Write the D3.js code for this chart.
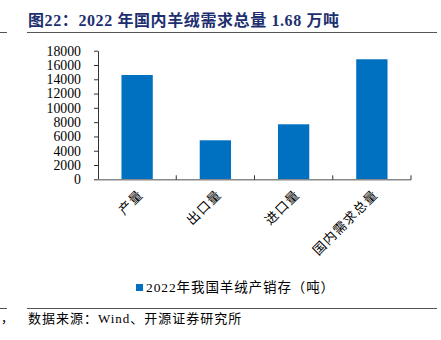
<!DOCTYPE html>
<html>
<head>
<meta charset="utf-8">
<script src="https://cdn.jsdelivr.net/npm/d3@7"></script>
<style>
  html, body { margin: 0; padding: 0; background: #fff; }
  svg { display: block; }
</style>
</head>
<body>
<svg id="chart" width="441" height="340"></svg>
<script>
// Wool (cashmere) production, export, import and domestic demand, 2022 (tonnes)
const categories = ["产量", "出口量", "进口量", "国内需求总量"];
const values = [14600, 5460, 7700, 16800];
const yTicks = [0, 2000, 4000, 6000, 8000, 10000, 12000, 14000, 16000, 18000];
const titleText = "图22：2022 年国内羊绒需求总量 1.68 万吨";
const legendText = "2022年我国羊绒产销存（吨）";
const sourceText = "数据来源：Wind、开源证券研究所";

const serif = "'Liberation Serif', 'Noto Sans CJK SC', serif";
const barColor = "#0070C0";

const svg = d3.select("#chart");

// Title and rules
svg.append("text")
  .attr("x", 28).attr("y", 25.5)
  .attr("font-family", serif)
  .attr("font-weight", "bold")
  .attr("font-size", 16)
  .attr("letter-spacing", 0.6)
  .attr("fill", "#1d2f6f")
  .text(titleText);

svg.append("line").attr("x1", 27).attr("x2", 437).attr("y1", 32.5).attr("y2", 32.5)
  .attr("stroke", "#555").attr("stroke-width", 1);
svg.append("line").attr("x1", 0).attr("x2", 7).attr("y1", 32.5).attr("y2", 32.5)
  .attr("stroke", "#555").attr("stroke-width", 1);

// Plot area
const plotLeft = 98, plotRight = 411, plotTop = 50.7, plotBottom = 179.3;

const x = d3.scaleBand().domain(categories).range([plotLeft, plotRight]).paddingInner(0.6).paddingOuter(0.3);
const y = d3.scaleLinear().domain([0, 18000]).range([plotBottom, plotTop]);

// Bars
svg.append("g").selectAll("rect")
  .data(values)
  .join("rect")
  .attr("x", (d, i) => x(categories[i]))
  .attr("width", x.bandwidth())
  .attr("y", d => y(d))
  .attr("height", d => plotBottom - y(d))
  .attr("fill", barColor);

// Y axis
const yAxis = svg.append("g")
  .attr("transform", `translate(${plotLeft},0)`)
  .call(d3.axisLeft(y).tickValues(yTicks).tickSizeInner(4).tickSizeOuter(0).tickPadding(13).tickFormat(d3.format("d")));
yAxis.select(".domain").attr("stroke", "#333");
yAxis.selectAll(".tick line").attr("stroke", "#333");
yAxis.selectAll(".tick text")
  .attr("font-family", serif)
  .attr("font-size", 13.8)
  .attr("fill", "#000");

// X axis: boundary ticks between categories pointing up
const boundaries = d3.range(categories.length + 1).map(i => plotLeft + i * (plotRight - plotLeft) / categories.length);
svg.append("line").attr("x1", plotLeft).attr("x2", plotRight).attr("y1", plotBottom + 0.5).attr("y2", plotBottom + 0.5)
  .attr("stroke", "#888").attr("stroke-width", 1.5);
svg.append("g").selectAll("line")
  .data(boundaries.slice(1))
  .join("line")
  .attr("x1", d => d).attr("x2", d => d)
  .attr("y1", plotBottom - 4).attr("y2", plotBottom + 0.5)
  .attr("stroke", "#333");

// Category labels, rotated
svg.append("g").selectAll("text")
  .data(categories)
  .join("text")
  .attr("transform", d => `translate(${x(d) + x.bandwidth() / 2 + 7},${plotBottom + 16}) rotate(-45)`)
  .attr("text-anchor", "end")
  .attr("font-family", serif)
  .attr("font-size", 13)
  .attr("letter-spacing", 1.3)
  .attr("fill", "#000")
  .text(d => d);

// Legend
svg.append("rect").attr("x", 136).attr("y", 284).attr("width", 7).attr("height", 7).attr("fill", barColor);
svg.append("text")
  .attr("x", 146).attr("y", 292)
  .attr("font-family", serif)
  .attr("font-size", 13.5)
  .attr("letter-spacing", 0.9)
  .attr("fill", "#000")
  .text(legendText);

// Source note and rules
svg.append("line").attr("x1", 27).attr("x2", 437).attr("y1", 308.5).attr("y2", 308.5)
  .attr("stroke", "#555").attr("stroke-width", 1);
svg.append("line").attr("x1", 0).attr("x2", 7).attr("y1", 308.5).attr("y2", 308.5)
  .attr("stroke", "#555").attr("stroke-width", 1);
svg.append("text")
  .attr("x", 28).attr("y", 323)
  .attr("font-family", serif)
  .attr("font-size", 13)
  .attr("letter-spacing", 1)
  .attr("fill", "#000")
  .text(sourceText);
svg.append("text")
  .attr("x", 1).attr("y", 323)
  .attr("font-family", serif)
  .attr("font-size", 12.5)
  .attr("fill", "#000")
  .text("，");
</script>
</body>
</html>
